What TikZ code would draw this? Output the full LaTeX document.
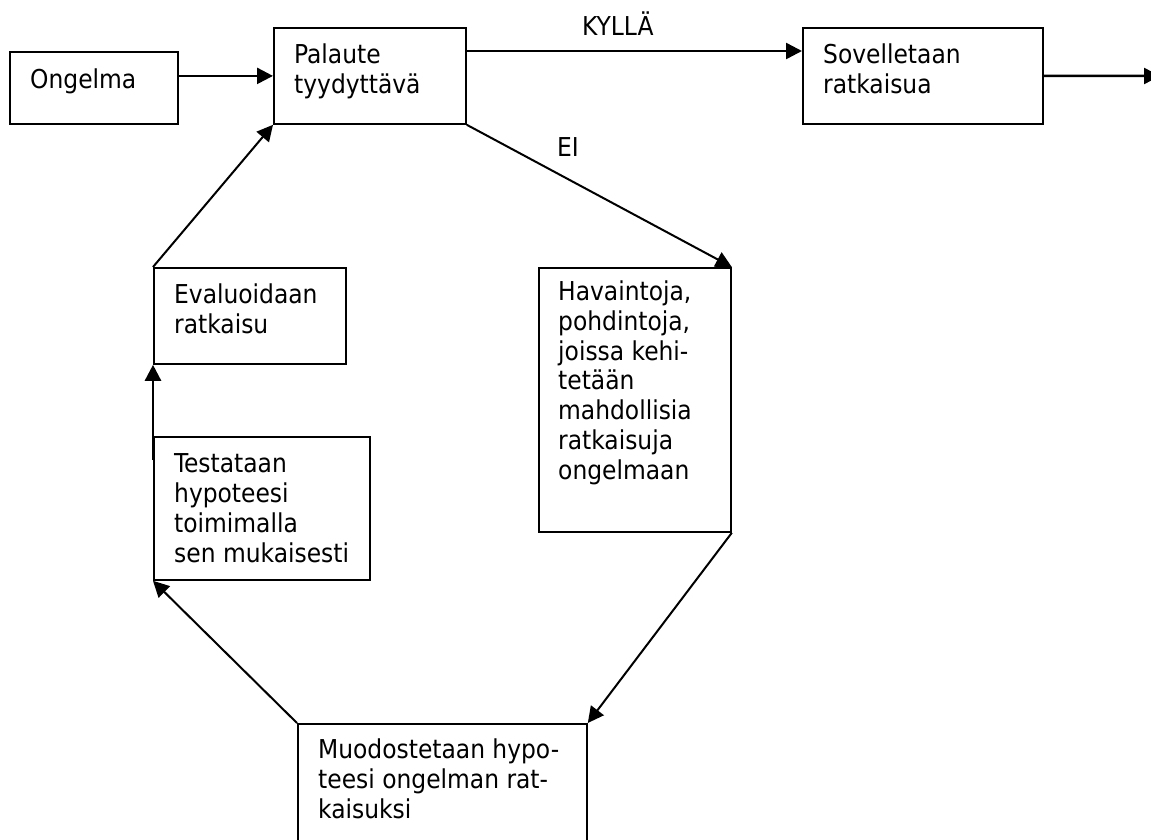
\documentclass[tikz,border=0pt]{standalone}
\usepackage{fontspec}
\setmainfont{DejaVu Sans Condensed}
\usetikzlibrary{arrows.meta,calc}
\tikzset{
  box/.style={draw, line width=1.8pt, rectangle, inner sep=0pt, anchor=north west},
  txt/.style={anchor=base west, align=left, inner sep=0pt, font=\fontsize{26}{29.7}\selectfont},
  conn/.style={line width=2.5pt, -{Triangle[length=16pt,width=16pt]}},
  diag/.style={line width=2pt}
}
\begin{document}
\begin{tikzpicture}[x=1pt,y=-1pt]
\clip (0,0) rectangle (1151,839);
\fill[white] (0,0) rectangle (1151,839);
% boxes
\node[box, minimum width=168pt, minimum height=72pt] (ong) at (9,51) {};
\node[box, minimum width=192pt, minimum height=96pt] (pal) at (273,27) {};
\node[box, minimum width=240pt, minimum height=96pt] (sov) at (802,27) {};
\node[box, minimum width=192pt, minimum height=264pt] (hav) at (538,267) {};
\node[box, minimum width=289pt, minimum height=140pt] (muo) at (297,723) {};
\node[box, minimum width=216pt, minimum height=143pt] (tes) at (153,436) {};
\node[box, minimum width=192pt, minimum height=96pt] (eva) at (153,267) {};
% texts (base = baseline of last line)
\node[txt] (tong) at (30,88) {Ongelma};
\node[txt] (tpal) at (294,93) {Palaute\\tyydyttävä};
\node[txt] (tsov) at (823,93) {Sovelletaan\\ratkaisua};
\node[txt] (thav) at (558,479) {Havaintoja,\\pohdintoja,\\joissa kehi-\\tetään\\mahdollisia\\ratkaisuja\\ongelmaan};
\node[txt] (tmuo) at (318,818) {Muodostetaan hypo-\\teesi ongelman rat-\\kaisuksi};
\node[txt] (ttes) at (174,562) {Testataan\\hypoteesi\\toimimalla\\sen mukaisesti};
\node[txt] (teva) at (174,333) {Evaluoidaan\\ratkaisu};
\node[txt] (kylla) at (582,35) {KYLLÄ};
\node[txt] (ei) at (557,156) {EI};
% connectors
\coordinate (out) at (1160,76);
\draw[conn] (pal.west -| ong.east) -- (pal.west);
\draw[conn] ($(pal.north east)+(0,24)$) -- ($(sov.north west)+(0,24)$);
\draw[conn] (sov.east) -- (out);
\draw[conn, diag] (pal.south east) -- (hav.north east);
\draw[conn, diag] (hav.south east) -- (muo.north east);
\draw[conn, diag] (muo.north west) -- (tes.south west);
\draw[conn] ($(tes.north west)+(0,24)$) -- (eva.south west);
\draw[conn, diag] (eva.north west) -- (pal.south west);
\end{tikzpicture}
\end{document}
